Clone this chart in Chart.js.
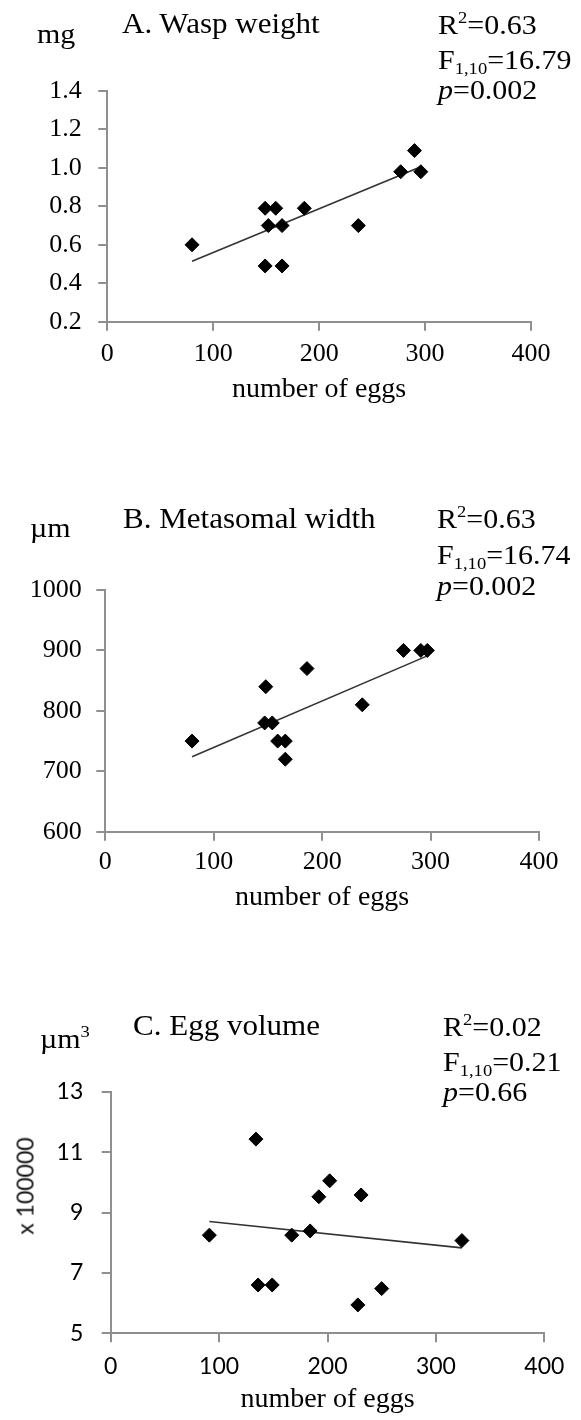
<!DOCTYPE html>
<html>
<head>
<meta charset="utf-8">
<script src="https://cdn.jsdelivr.net/npm/chart.js@4.4.1/dist/chart.umd.min.js"></script>
<style>
  body { margin: 0; background: #fff; }
  #page { position: relative; width: 581px; height: 1420px; overflow: hidden; background: #fff; }
  #page canvas { position: absolute; left: 0; }
  .t {
    position: absolute;
    font-family: 'Liberation Serif', 'Times New Roman', serif;
    color: #000;
    line-height: 1;
    white-space: nowrap;
    transform-origin: 0 0;
    transform: scaleX(1.07);
  }
  .title { font-size: 29px; }
  .stat, .unit { font-size: 28px; }
  .t sup, .t sub { font-size: 62%; line-height: 0; }
  .t sup { vertical-align: 0.62em; }
  .t sub { vertical-align: -0.3em; }
  .ylab {
    position: absolute;
    font-family: 'Lato', sans-serif;
    font-size: 23px;
    color: #111;
    white-space: nowrap;
    line-height: 1;
    transform: translate(-50%, -50%) rotate(-90deg);
  }
</style>
</head>
<body>
<div id="page">
  <canvas id="chart-a" width="581" height="406" style="top:0px"></canvas>
  <canvas id="chart-b" width="581" height="494" style="top:420px"></canvas>
  <canvas id="chart-c" width="581" height="486" style="top:930px"></canvas>

  <!-- Panel A -->
  <div class="t unit" style="left:37px; top:20px">mg</div>
  <div class="t title" style="left:122px; top:9px">A. Wasp weight</div>
  <div class="t stat" style="left:438px; top:11px">R<sup>2</sup>=0.63</div>
  <div class="t stat" style="left:438px; top:46px">F<sub>1,10</sub>=16.79</div>
  <div class="t stat" style="left:438px; top:76px"><i>p</i>=0.002</div>

  <!-- Panel B -->
  <div class="t unit" style="left:30px; top:514px">µm</div>
  <div class="t title" style="left:123px; top:504px">B. Metasomal width</div>
  <div class="t stat" style="left:437px; top:505px">R<sup>2</sup>=0.63</div>
  <div class="t stat" style="left:437px; top:541px">F<sub>1,10</sub>=16.74</div>
  <div class="t stat" style="left:437px; top:572px"><i>p</i>=0.002</div>

  <!-- Panel C -->
  <div class="t unit" style="left:40px; top:1025px">µm<sup>3</sup></div>
  <div class="t title" style="left:133px; top:1011px">C. Egg volume</div>
  <div class="t stat" style="left:443px; top:1013px">R<sup>2</sup>=0.02</div>
  <div class="t stat" style="left:443px; top:1048px">F<sub>1,10</sub>=0.21</div>
  <div class="t stat" style="left:443px; top:1078px"><i>p</i>=0.66</div>
  <div class="ylab" style="left:25px; top:1186px">x 100000</div>
</div>

<script>
// ===============================
// Data
// ===============================
const xTicks = [0, 100, 200, 300, 400];

// A. Wasp weight (mg) vs number of eggs
const eggsA = [80, 149, 159, 186, 152, 165, 237, 149, 165, 277, 296, 290];
const weightA = [0.6, 0.79, 0.79, 0.79, 0.7, 0.7, 0.7, 0.49, 0.49, 0.98, 0.98, 1.09];
const trendEggsA = [80, 296];
const trendWeightA = [0.514, 1.006];
const yTicksA = [0.2, 0.4, 0.6, 0.8, 1.0, 1.2, 1.4];

// B. Metasomal width (µm) vs number of eggs
const eggsB = [80, 148, 147, 154, 159, 166, 166, 186, 237, 275, 291, 297];
const widthB = [750, 840, 780, 780, 750, 750, 720, 870, 810, 900, 900, 900];
const trendEggsB = [80, 297];
const trendWidthB = [724, 891];
const yTicksB = [600, 700, 800, 900, 1000];

// C. Egg volume (µm³ x 100000) vs number of eggs
const eggsC = [91, 134, 136, 149, 167, 184, 192, 202, 231, 228, 250, 324];
const volumeC = [8.25, 11.43, 6.6, 6.6, 8.25, 8.39, 9.52, 10.05, 9.58, 5.94, 6.48, 8.07];
const trendEggsC = [91, 324];
const trendVolumeC = [8.7, 7.83];
const yTicksC = [5, 7, 9, 11, 13];

// ===============================
// Shared styling
// ===============================
const axisGray = '#8f8f8f';
const textColor = '#000';

function toPoints(xs, ys) {
  return xs.map((x, i) => ({ x: x, y: ys[i] }));
}

// Builds one panel: scatter of diamonds + a straight trend line
function buildPanel(canvasId, cfg) {
  const ctx = document.getElementById(canvasId).getContext('2d');
  const tickFont = { family: cfg.tickFamily, size: cfg.tickSize };

  return new Chart(ctx, {
    type: 'scatter',
    data: {
      datasets: [
        {
          data: toPoints(cfg.x, cfg.y),
          pointStyle: 'rectRot',
          pointRadius: 7,
          pointHoverRadius: 7,
          backgroundColor: '#000',
          borderColor: '#000',
          borderWidth: 1,
          order: 1
        },
        {
          data: toPoints(cfg.trendX, cfg.trendY),
          showLine: true,
          borderColor: '#333',
          borderWidth: 1.6,
          pointRadius: 0,
          fill: false,
          order: 2
        }
      ]
    },
    options: {
      responsive: false,
      animation: false,
      layout: {
        padding: { top: cfg.padTop, right: cfg.padRight, bottom: 0, left: 0 }
      },
      plugins: {
        legend: { display: false },
        tooltip: { enabled: false }
      },
      scales: {
        x: {
          type: 'linear',
          min: 0,
          max: 400,
          afterBuildTicks: function(scale) {
            scale.ticks = xTicks.map(v => ({ value: v }));
          },
          afterFit: function(scale) {
            scale.height = cfg.xHeight;
          },
          grid: {
            drawOnChartArea: false,
            drawTicks: true,
            tickLength: 9,
            color: axisGray,
            lineWidth: 2
          },
          border: { color: axisGray, width: 2 },
          ticks: {
            font: tickFont,
            color: textColor,
            padding: cfg.xTickPad,
            maxRotation: 0,
            callback: function(value) { return String(value); }
          },
          title: {
            display: true,
            text: 'number of eggs',
            font: { family: 'Liberation Serif', size: 28 },
            color: '#000',
            padding: 0
          }
        },
        y: {
          type: 'linear',
          min: cfg.yTicks[0],
          max: cfg.yTicks[cfg.yTicks.length - 1],
          afterBuildTicks: function(scale) {
            scale.ticks = cfg.yTicks.map(v => ({ value: v }));
          },
          afterFit: function(scale) {
            scale.width = cfg.yWidth;
          },
          grid: {
            drawOnChartArea: false,
            drawTicks: true,
            tickLength: 9,
            color: axisGray,
            lineWidth: 2
          },
          border: { color: axisGray, width: 2 },
          ticks: {
            font: tickFont,
            color: textColor,
            padding: cfg.yTickPad,
            callback: cfg.fmt
          }
        }
      }
    }
  });
}

document.addEventListener('DOMContentLoaded', function() {
  // Panel A
  buildPanel('chart-a', {
    x: eggsA, y: weightA,
    trendX: trendEggsA, trendY: trendWeightA,
    yTicks: yTicksA,
    fmt: v => Number(v).toFixed(1),
    tickFamily: 'Liberation Serif', tickSize: 26,
    padTop: 91, padRight: 50, yWidth: 107.3, xHeight: 84.3,
    yTickPad: 16.6, xTickPad: 8
  });

  // Panel B
  buildPanel('chart-b', {
    x: eggsB, y: widthB,
    trendX: trendEggsB, trendY: trendWidthB,
    yTicks: yTicksB,
    fmt: v => String(v),
    tickFamily: 'Liberation Serif', tickSize: 26,
    padTop: 170, padRight: 42, yWidth: 105.3, xHeight: 82.3,
    yTickPad: 14.6, xTickPad: 6
  });

  // Panel C
  buildPanel('chart-c', {
    x: eggsC, y: volumeC,
    trendX: trendEggsC, trendY: trendVolumeC,
    yTicks: yTicksC,
    fmt: v => String(v),
    tickFamily: 'Lato', tickSize: 23,
    padTop: 161.7, padRight: 36.7, yWidth: 110.7, xHeight: 82.7,
    yTickPad: 18.4, xTickPad: 10
  });
});
</script>
</body>
</html>
